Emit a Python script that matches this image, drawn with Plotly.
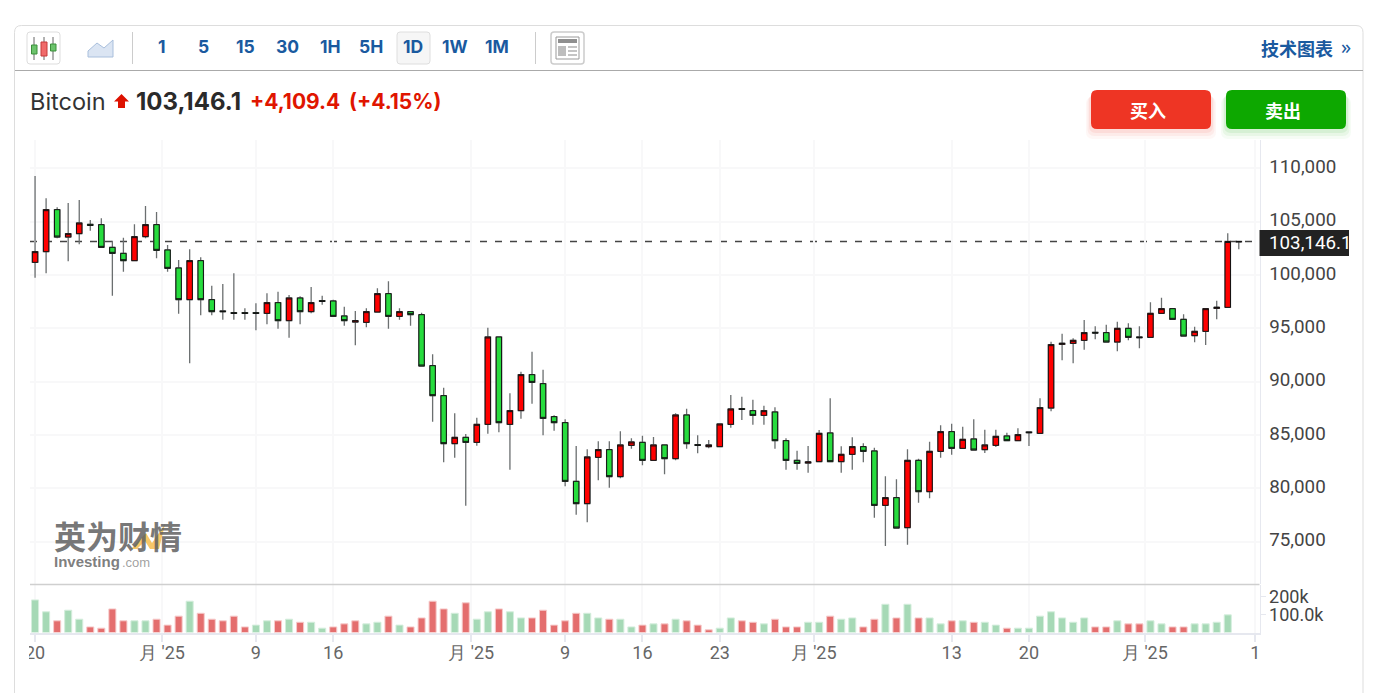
import pandas as pd
import plotly.graph_objects as go
from plotly.subplots import make_subplots

W, H = 1387, 693

# precios (velas diarias)
dates = pd.date_range("2025-01-20", periods=110, freq="D")

opens = [101190,102190,106128,103565,103878,104753,104721,102596,102034,101346,
         103596,104721,102346,100659,97690,101346,97690,96628,96471,96471,
         96471,96409,97409,95721,97846,96565,97596,97565,96159,95596,
         95565,96534,98253,96128,96565,96284,91503,88691,84191,84784,
         84316,86003,94191,86003,87284,90659,89816,86722,86159,80659,
         78566,82909,83628,81097,84034,84316,82628,84066,82784,86878,
         84097,83909,83909,86003,87472,87284,86847,87159,84472,82628,
         82378,82503,85191,82503,83191,83909,83503,78409,79128,76315,
         82628,79690,83472,85315,83753,84628,83628,84034,84909,84472,
         85284,85159,87534,93503,93597,93878,94628,94597,93722,95003,
         94190,94159,96409,96847,95847,94315,94722,96878,96972,103100]
highs = [109284,107190,106346,106753,107034,105159,105315,103221,103503,104753,
         106471,105909,102815,101409,102409,101659,99003,99159,100159,96878,
         97346,98284,98440,98128,98003,98878,98065,97690,97034,96628,
         96878,98753,99409,96878,96628,96471,92566,89441,87034,85097,
         86628,95066,94222,88909,90941,92816,91128,86847,86472,83972,
         83659,84410,84410,85347,84691,84941,84816,84066,87034,87472,
         84972,84535,86035,88753,88597,88316,87753,87597,84691,83535,
         83972,85472,88440,83941,84784,84222,83816,81128,80847,83659,
         82784,84378,85909,86066,85784,86472,85503,85503,85222,85628,
         85347,88440,93753,94503,94066,95784,95190,95347,95628,95472,
         95190,97440,97878,96847,96315,95159,96847,97597,103909,103222]
lows = [99753,100159,103440,101284,102878,104159,102596,98065,100315,101346,
        103440,101565,100315,96378,91721,96221,96221,95815,95815,95815,
        94815,95378,94971,94128,95378,96409,97221,96128,95253,93409,
        95096,96534,94971,95815,95253,91471,86253,82441,82878,78378,
        84003,85128,85253,81753,86534,87941,84972,85409,80191,77534,
        76816,80753,80066,80941,83722,82159,82628,81316,82628,83722,
        83284,83753,83909,85691,86410,85972,85972,83722,81753,81753,
        81472,82503,82503,81472,81753,82441,77253,74597,76284,74722,
        78659,79065,82878,83159,83753,83597,83316,83878,84472,84472,
        83972,85159,87222,92003,91722,93003,93972,93722,92847,93878,
        93128,94159,96409,95847,94284,93690,93440,95847,96972,102409]
closes = [102190,106128,103565,103878,104878,104659,102596,102034,101346,103596,
          104721,102315,100628,97690,101346,97690,96565,96565,96409,96409,
          96409,97409,95721,97846,96565,97409,97534,96128,95721,95721,
          96565,98253,96128,96565,96284,91471,88691,84191,84784,84316,
          86003,94191,86159,87284,90659,89941,86566,86159,80659,78566,
          82941,83628,81097,84066,84347,82628,84066,82784,86878,84191,
          84034,84066,86035,87441,87409,86847,87284,84472,82628,82347,
          82472,85159,82503,83191,83909,83472,78409,79128,76284,82628,
          79690,83472,85315,83753,84597,83597,84066,84878,84472,85034,
          85222,87566,93472,93597,93878,94597,94566,93722,95003,94159,
          94128,96409,96847,95847,94284,94722,96847,96972,103146,103146]

# volumen en miles, la ultima vela no tiene barra
volumes = [181,115,65,124,74,31,24,131,65,65,
           65,74,41,91,174,107,74,65,91,31,
           41,65,65,74,57,57,24,31,48,65,
           48,57,91,41,31,81,174,131,107,165,
           74,115,131,115,81,81,124,41,65,107,
           107,81,74,74,31,41,48,48,74,65,
           41,15,24,81,65,57,48,74,31,31,
           57,57,91,74,81,31,74,157,81,157,
           81,81,48,65,65,57,57,41,24,24,
           24,91,115,81,57,81,31,31,65,48,
           48,65,48,31,31,48,48,57,98,None]
vol_up = [0,0,1,0,0,1,1,1,1,0,0,1,1,1,0,1,1,1,1,1,
          0,0,1,0,1,0,0,1,1,1,0,0,1,0,1,1,1,1,0,1,
          0,0,1,0,0,1,1,1,1,1,0,0,1,0,0,1,0,1,0,1,
          1,1,0,0,1,1,0,1,1,1,0,0,1,0,0,1,1,0,1,0,
          1,0,0,1,0,1,0,0,1,0,0,0,0,0,0,0,1,1,0,1,
          1,0,0,1,1,0,0,0,0,0]

last_price = 103146.1

price_ticks = [75000,80000,85000,90000,95000,100000,105000,110000]
vol_ticks = [100,200]
vol_ticktext = ["100.0k","200k"]

x_ticks = ["2025-01-20","2025-01-31 12:00","2025-02-09","2025-02-16","2025-02-28 12:00",
           "2025-03-09","2025-03-16","2025-03-23","2025-03-31 12:00","2025-04-13",
           "2025-04-20","2025-04-30 12:00","2025-05-10 12:00"]
x_ticktext = ["20","月 '25","9","16","月 '25","9","16","23","月 '25","13","20","月 '25","1"]

toolbar = ["1","5","15","30","1H","5H","1D","1W","1M"]
toolbar_x = [162,203,245,287,330,371,413,455,497]

RED = "#ff0000"
GREEN = "#27dc3e"
BLUE = "#1a5a9f"
FONT = "Inter"
AXIS_FONT = "Roboto"


def px(x):
    return x / W


def py(y):
    return 1 - y / H


def rect(x0, y0, x1, y1, fill=None, line=None, lw=1, op=1, layer="above"):
    fig.add_shape(type="rect", xref="paper", yref="paper", x0=px(x0), x1=px(x1), y0=py(y0), y1=py(y1),
                  fillcolor=fill, line=dict(color=line, width=lw if line else 0), opacity=op, layer=layer)


def rrect(x0, y0, x1, y1, r, fill=None, line=None, lw=1, op=1):
    path = (f"M {px(x0+r)} {py(y0)} L {px(x1-r)} {py(y0)} Q {px(x1)} {py(y0)} {px(x1)} {py(y0+r)} "
            f"L {px(x1)} {py(y1-r)} Q {px(x1)} {py(y1)} {px(x1-r)} {py(y1)} L {px(x0+r)} {py(y1)} "
            f"Q {px(x0)} {py(y1)} {px(x0)} {py(y1-r)} L {px(x0)} {py(y0+r)} Q {px(x0)} {py(y0)} {px(x0+r)} {py(y0)} Z")
    fig.add_shape(type="path", xref="paper", yref="paper", path=path, fillcolor=fill,
                  line=dict(color=line, width=lw if line else 0), opacity=op, layer="above")


def seg(x0, y0, x1, y1, color, lw=1, layer="above"):
    fig.add_shape(type="line", xref="paper", yref="paper", x0=px(x0), x1=px(x1), y0=py(y0), y1=py(y1),
                  line=dict(color=color, width=lw), layer=layer)


def poly(points, fill, line=None, lw=1, op=1):
    path = "M " + " L ".join(f"{px(a)} {py(b)}" for a, b in points) + " Z"
    fig.add_shape(type="path", xref="paper", yref="paper", path=path, fillcolor=fill,
                  line=dict(color=line, width=lw if line else 0), opacity=op, layer="above")


def label(x, y, text, size, color, anchor="left", family=FONT):
    fig.add_annotation(xref="paper", yref="paper", x=px(x), y=py(y), text=text, showarrow=False,
                       xanchor=anchor, yanchor="middle", font=dict(size=size, color=color, family=family),
                       borderpad=0, borderwidth=0)


fig = make_subplots(rows=2, cols=1, shared_xaxes=True, vertical_spacing=0)

# mechas grises y cuerpos con borde negro, en dos trazas
fig.add_trace(go.Candlestick(x=dates, open=opens, high=highs, low=lows, close=closes,
                             increasing=dict(line=dict(color="#6b6f70", width=1.3), fillcolor=RED),
                             decreasing=dict(line=dict(color="#6b6f70", width=1.3), fillcolor=GREEN),
                             whiskerwidth=0, hoverinfo="skip", showlegend=False), row=1, col=1)
body_top = [max(a, b) for a, b in zip(opens, closes)]
body_bot = [min(a, b) for a, b in zip(opens, closes)]
fig.add_trace(go.Candlestick(x=dates, open=opens, high=body_top, low=body_bot, close=closes,
                             increasing=dict(line=dict(color="#111111", width=1), fillcolor=RED),
                             decreasing=dict(line=dict(color="#111111", width=1), fillcolor=GREEN),
                             whiskerwidth=0, hoverinfo="skip", showlegend=False), row=1, col=1)
fig.add_trace(go.Bar(x=dates, y=volumes,
                     marker=dict(color=["#e46e6e" if u else "#a6d9b6" for u in vol_up],
                                 line=dict(color=["#f6cccc" if u else "#d5eedd" for u in vol_up], width=1)),
                     hoverinfo="skip", showlegend=False), row=2, col=1)

fig.update_layout(width=W, height=H, margin=dict(l=0, r=0, t=0, b=0), autosize=False,
                  paper_bgcolor="white", plot_bgcolor="white", bargap=0.36, boxgap=0.3, boxmode="overlay",
                  font=dict(family=AXIS_FONT), showlegend=False)

x_range = ["2025-01-19 13:00", "2025-05-10 21:00"]
fig.update_xaxes(range=x_range, domain=[px(30), px(1259.5)], tickmode="array", tickvals=x_ticks, ticktext=x_ticktext,
                 automargin=False, showgrid=True, gridcolor="#f8f8f9", gridwidth=1.5, zeroline=False,
                 rangeslider_visible=False)
fig.update_xaxes(showticklabels=False, ticks="", row=1, col=1)
fig.update_xaxes(showticklabels=True, ticks="outside", ticklen=7, tickcolor="#e6e8ef", tickwidth=1.5,
                 showline=True, linecolor="#e6e8ef", linewidth=2, tickangle=0, ticklabelstandoff=-4,
                 tickfont=dict(size=18, color="#666666", family=AXIS_FONT), row=2, col=1)
fig.update_yaxes(domain=[py(584), py(140)], range=[71034, 112659], side="right", tickmode="array", tickvals=price_ticks,
                 automargin=False, tickformat=",d", ticks="outside", ticklen=5, tickcolor="rgba(0,0,0,0)", showline=True,
                 linecolor="#e6e8ef", linewidth=1, gridcolor="#f8f8f9", gridwidth=1.5, zeroline=False,
                 ticklabelshift=-2, tickfont=dict(size=18.8, color="#444444", family=AXIS_FONT), row=1, col=1)
fig.update_yaxes(domain=[py(632.5), py(585)], range=[0, 264], side="right", tickmode="array", tickvals=vol_ticks,
                 automargin=False, ticktext=vol_ticktext, ticks="outside", ticklen=5, tickcolor="#e6e8ef", showline=True,
                 linecolor="#e6e8ef", linewidth=1, showgrid=False, zeroline=False,
                 tickfont=dict(size=18, color="#444444", family=AXIS_FONT), row=2, col=1)

# linea del ultimo precio
fig.add_shape(type="line", xref="x domain", yref="y", x0=0, x1=1, y0=last_price, y1=last_price,
              line=dict(color="#444444", width=1.5, dash="7px,8px"), layer="below")

# separador entre paneles y corte del primer rotulo
seg(30, 584.5, 1259.5, 584.5, "#cfcfcf", 1.5)
rect(16, 640, 29, 668, fill="white")

# tarjeta y barra de herramientas
rrect(14.5, 25.5, 1363, 720, 7, line="#dddddd", lw=1)
seg(15, 70.5, 1363, 70.5, "#aaaaaa", 1)
seg(132.5, 32, 132.5, 64, "#cccccc", 1)
seg(535.5, 32, 535.5, 64, "#cccccc", 1)
rrect(397, 32, 430, 64, 3, fill="#f6f6f6", line="#dedede")
for tx, tt in zip(toolbar_x, toolbar):
    label(tx, 47, f"<b>{tt}</b>", 17.5, BLUE, anchor="center")

# icono de velas
rrect(27, 32, 60, 64, 3, line="#dddddd")
for wx in (34, 44, 53):
    seg(wx, 37, wx, 60, "#666666", 1)
rect(31.5, 45, 37, 54, fill="#6cc36c", line="#3b8f3b")
rect(41, 42, 47, 56, fill="#f06a6a", line="#c43a3a")
rect(50.5, 44, 56, 51, fill="#6cc36c", line="#3b8f3b")

# icono de area
poly([(88, 51), (97, 43), (104, 48), (113, 40), (113, 57), (88, 57)], "#dbe5f3", line="#a9bfdc")

# icono de noticias
rrect(551, 32, 584, 64, 3, line="#cccccc", lw=1.5)
rect(556, 37, 579, 59, line="#999999", lw=1)
rect(558, 39, 577, 43, fill="#8f8f8f")
rect(558, 46, 566, 56, fill="#bdbdbd")
for ly in (47, 51, 55):
    seg(568, ly, 577, ly, "#a5a5a5", 1.3)

label(1333, 47.5, "<b>技术图表</b>", 18, BLUE, anchor="right", family="Noto Sans CJK SC")
label(1341, 47, "»", 20, BLUE, family="Noto Sans")

# cabecera con el precio
label(30, 101.5, "Bitcoin", 23.5, "#333333")
poly([(121.5, 94), (129, 101.5), (125, 101.5), (125, 108), (118, 108), (118, 101.5), (114, 101.5)], "#dd1100")
label(136, 101.5, "<b>103,146.1</b>", 24, "#2a2a2a")
label(250, 101.5, "<b>+4,109.4</b>", 21, "#e01500")
label(349, 101.5, "<b>(+4.15%)</b>", 21, "#e01500")

# botones
for dy, op in ((10, 0.04), (7, 0.06), (4, 0.08)):
    rrect(1091 - dy / 2, 92 + dy / 2, 1211 + dy / 2, 129 + dy, 7, fill="#ee3524", op=op)
    rrect(1226 - dy / 2, 92 + dy / 2, 1346 + dy / 2, 129 + dy, 7, fill="#0da800", op=op)
rrect(1091, 90, 1211, 129, 6, fill="#ee3524")
rrect(1226, 90, 1346, 129, 6, fill="#0da800")
label(1148, 110, "<b>买入</b>", 18, "white", anchor="center", family="Noto Sans CJK SC")
label(1283, 110, "<b>卖出</b>", 18, "white", anchor="center", family="Noto Sans CJK SC")

# etiqueta del ultimo precio
rect(1259.5, 230, 1349, 256, fill="#222222")
label(1269, 243, "103,146.1", 18.8, "white", family=AXIS_FONT)

# marca de agua
poly([(131, 549), (146, 533), (152, 543), (165, 524), (159, 549), (150, 549), (145, 541), (137, 549)], "#f7bd4d", op=0.85)
label(54, 535, "<b>英为财情</b>", 32, "rgba(95,95,95,0.85)", family="Noto Sans CJK SC")
label(54, 561, "<b>Investing</b>", 15, "rgba(110,110,110,0.9)", family="Liberation Sans")
label(122, 562, ".com", 13, "rgba(150,150,150,0.9)", family="Liberation Sans")

fig.write_html("out.html", config={"displayModeBar": False}, post_script="document.body.style.margin='0';")
